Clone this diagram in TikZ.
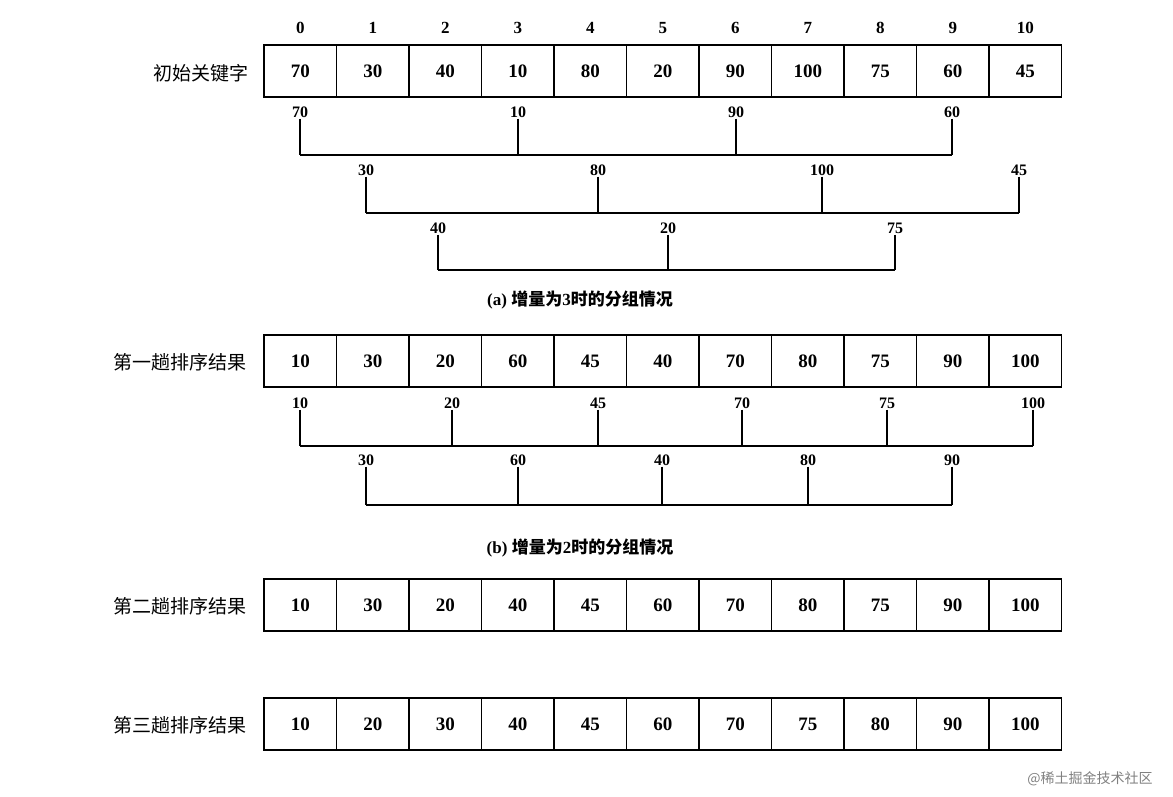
\documentclass[tikz,border=0pt]{standalone}
\usepackage{fontspec}
\setmainfont{Liberation Serif}
\newfontfamily\cjk{Noto Sans CJK SC}
\begin{document}
\begin{tikzpicture}[x=1pt,y=-1pt,
 cell/.style={draw,line width=1.1pt,minimum width=72.5pt,minimum height=52pt,inner sep=0pt,font=\fontsize{19}{19}\selectfont\bfseries},
 idx/.style={font=\fontsize{17}{17}\selectfont\bfseries},
 glab/.style={font=\fontsize{16}{16}\selectfont\bfseries,inner sep=1pt},
 rlab/.style={anchor=east,font=\cjk\fontsize{19}{19}\selectfont},
 captext/.style={font=\fontsize{17}{17}\selectfont\bfseries},
 gl/.style={line width=1.1pt}]
\useasboundingbox (0,0) rectangle (1173,797);
\foreach \v [count=\i from 0] in {0,...,10}
  \node[idx] (ix\i) at ({264+72.5*(\i+0.5)},28) {\v};
\foreach \v [count=\i from 0] in {70,30,40,10,80,20,90,100,75,60,45}
  \node[cell] (ra\i) at ({264+72.5*(\i+0.5)},71) {\v};
\foreach \v [count=\i from 0] in {10,30,20,60,45,40,70,80,75,90,100}
  \node[cell] (rb\i) at ({264+72.5*(\i+0.5)},361) {\v};
\foreach \v [count=\i from 0] in {10,30,20,40,45,60,70,80,75,90,100}
  \node[cell] (rc\i) at ({264+72.5*(\i+0.5)},605) {\v};
\foreach \v [count=\i from 0] in {10,20,30,40,45,60,70,75,80,90,100}
  \node[cell] (rd\i) at ({264+72.5*(\i+0.5)},724) {\v};
\node[rlab] (la) at (252,73) {初始关键字};
\node[rlab] (lb) at (250,362) {第一趟排序结果};
\node[rlab] (lc) at (250,606) {第二趟排序结果};
\node[rlab] (ld) at (250,725) {第三趟排序结果};
\foreach \name/\y/\ly/\lst in {
  ga/155/112/{300/70,518/10,736/90,952/60},
  gb/213/170/{366/30,598/80,822/100,1019/45},
  gc/270/228/{438/40,668/20,895/75},
  gd/446/403/{300/10,452/20,598/45,742/70,887/75,1033/100},
  ge/505/460/{366/30,518/60,662/40,808/80,952/90}}{
  \foreach \x/\t [count=\k] in \lst {
    \node[glab] (\name l\k) at (\x,\ly) {\t};
    \coordinate (\name c\k) at (\x,\y);
    \draw[gl] (\name l\k.south) -- (\name c\k);
  }
}
\draw[gl] (gac1) -- (gac4);
\draw[gl] (gbc1) -- (gbc4);
\draw[gl] (gcc1) -- (gcc3);
\draw[gl] (gdc1) -- (gdc6);
\draw[gl] (gec1) -- (gec5);
\node[captext] (capa) at (580,300) {(a) {\cjk\fontsize{17}{17}\selectfont 增量为}3{\cjk\fontsize{17}{17}\selectfont 时的分组情况}};
\node[captext] (capb) at (580,548) {(b) {\cjk\fontsize{17}{17}\selectfont 增量为}2{\cjk\fontsize{17}{17}\selectfont 时的分组情况}};
\node[text=gray,font=\cjk\fontsize{14}{14}\selectfont] (wm) at (1090,779) {@稀土掘金技术社区};
\end{tikzpicture}
\end{document}
